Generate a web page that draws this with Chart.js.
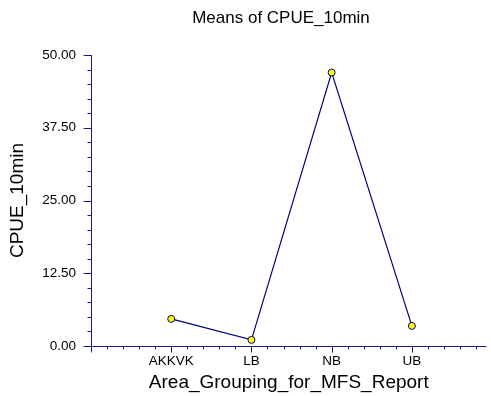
<!DOCTYPE html>
<html>
<head>
<meta charset="utf-8">
<script src="https://cdn.jsdelivr.net/npm/chart.js@4/dist/chart.umd.min.js"></script>
<style>
  html, body { margin: 0; padding: 0; background: #fff; overflow: hidden; }
  #wrap { width: 491px; height: 396px; }
</style>
</head>
<body>
<div id="wrap"><canvas id="means_chart"></canvas></div>
<script>
// chart data
const areas = ['AKKVK', 'LB', 'NB', 'UB'];
const cpue_means = [4.65, 1.05, 47.0, 3.45];
const y_ticks = [0, 12.5, 25, 37.5, 50];

const NAVY = '#000080';
const FONT = "'Liberation Sans', Arial, sans-serif";

const ctx = document.getElementById('means_chart').getContext('2d');

// axis lines with major + minor tick marks, drawn through the scales
const axisTicks = {
  id: 'axisTicks',
  afterDraw(chart) {
    const c = chart.ctx;
    const xs = chart.scales.x, ys = chart.scales.y;
    const x0 = Math.round(xs.left) + 0.5;
    const y0 = Math.round(ys.bottom) + 0.5;
    c.save();
    c.strokeStyle = '#1a1a90';
    c.lineWidth = 1;
    c.beginPath();
    c.moveTo(x0, Math.round(ys.top));
    c.lineTo(x0, y0);
    c.lineTo(xs.right, y0);
    // y ticks every 2.5, major every 12.5
    for (let i = 0; i <= 20; i++) {
      const py = Math.round(ys.getPixelForValue(i * 2.5)) + 0.5;
      const len = i % 5 === 0 ? 8 : 4;
      c.moveTo(x0 - len, py);
      c.lineTo(x0, py);
    }
    // x ticks every 0.2, major on whole numbers
    for (let i = 0; i * 0.2 <= xs.max + 1e-9; i++) {
      const px = Math.round(xs.getPixelForValue(i * 0.2)) + 0.5;
      const len = i % 5 === 0 ? 6 : 3;
      c.moveTo(px, y0);
      c.lineTo(px, y0 + len);
    }
    c.stroke();

    // chart title
    c.fillStyle = '#000';
    c.font = '17px ' + FONT;
    c.textAlign = 'center';
    c.textBaseline = 'middle';
    c.fillText('Means of CPUE_10min', 281, 18);
    c.restore();
  }
};

new Chart(ctx, {
  type: 'scatter',
  data: {
    datasets: [{
      data: cpue_means.map((v, i) => ({ x: i + 1, y: v })),
      showLine: true,
      borderColor: NAVY,
      borderWidth: 1.2,
      backgroundColor: '#ffff00',
      pointBorderColor: NAVY,
      pointBorderWidth: 1,
      pointRadius: 3.5,
      pointHoverRadius: 3.5,
      tension: 0
    }]
  },
  options: {
    responsive: true,
    maintainAspectRatio: false,
    animation: false,
    layout: { padding: { top: 55, right: 0, bottom: 0, left: 0 } },
    plugins: {
      legend: { display: false },
      tooltip: { enabled: false }
    },
    scales: {
      x: {
        type: 'linear',
        min: 0,
        max: 4.93,
        grid: { display: false, drawTicks: false },
        border: { display: false },
        afterBuildTicks: s => { s.ticks = [1, 2, 3, 4].map(v => ({ value: v })); },
        ticks: {
          autoSkip: false,
          maxRotation: 0,
          padding: 7,
          color: '#000',
          font: { family: FONT, size: 13.5 },
          callback: v => areas[v - 1]
        },
        title: {
          display: true,
          text: 'Area_Grouping_for_MFS_Report',
          color: '#000',
          font: { family: FONT, size: 19 },
          padding: { top: 0, bottom: 2 }
        },
        afterFit: s => { s.height = 50; }
      },
      y: {
        min: 0,
        max: 50,
        grid: { display: false, drawTicks: false },
        border: { display: false },
        afterBuildTicks: s => { s.ticks = y_ticks.map(v => ({ value: v })); },
        ticks: {
          padding: 15,
          color: '#000',
          font: { family: FONT, size: 13.5 },
          callback: v => v.toFixed(2)
        },
        title: {
          display: true,
          text: 'CPUE_10min',
          color: '#000',
          font: { family: FONT, size: 19 },
          padding: { top: 6, bottom: 0 }
        },
        afterFit: s => { s.width = 91; }
      }
    }
  },
  plugins: [axisTicks]
});
</script>
</body>
</html>
